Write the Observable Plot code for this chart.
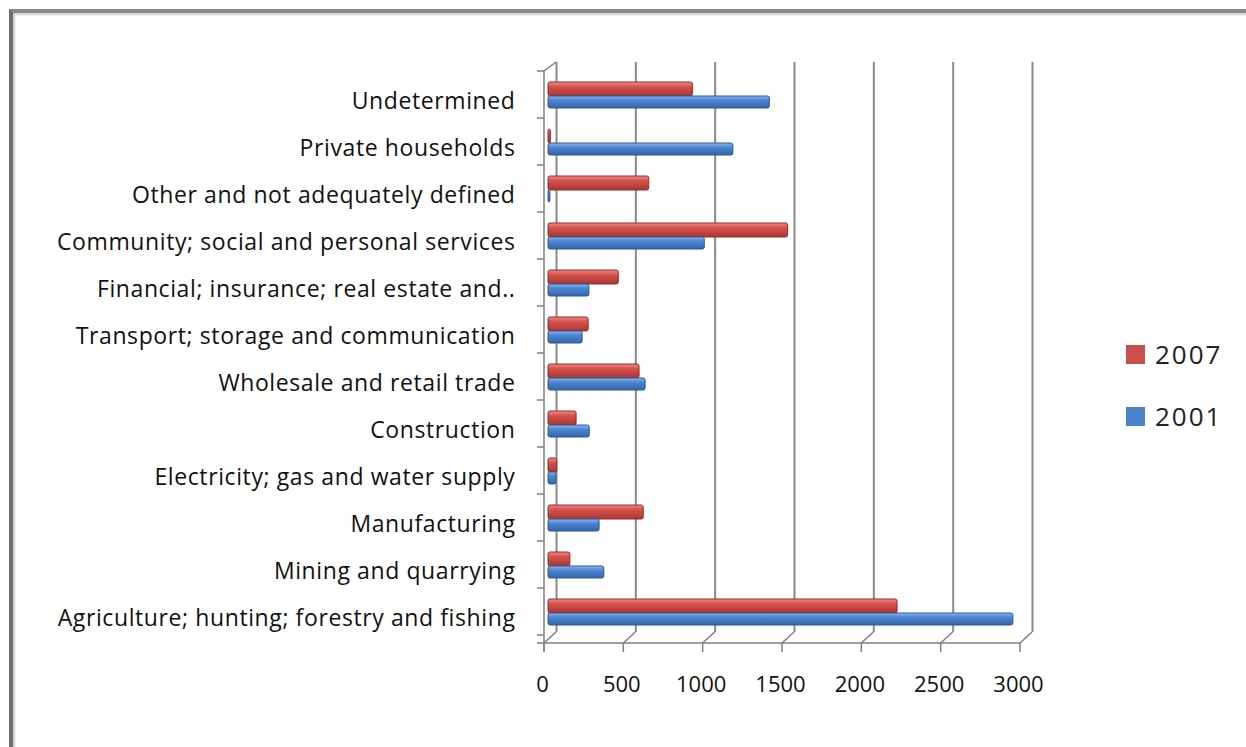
<!DOCTYPE html>
<html>
<head>
<meta charset="utf-8">
<script src="https://cdn.jsdelivr.net/npm/d3@7"></script>
<script src="https://cdn.jsdelivr.net/npm/@observablehq/plot@0.6"></script>
<style>
  html, body { margin: 0; padding: 0; background: #fff; width: 1246px; height: 747px; overflow: hidden; position: relative; }
  #chart { position: absolute; left: 0; top: 0; }
  #chart g[aria-label="y-axis tick label"] text { letter-spacing: 0.6px !important; }
  .frame { position: absolute; left: 9px; top: 9px; width: 1250px; height: 750px;
           border-left: 4px solid #6e6e6e; border-top: 4px solid #8a8a8a;
           box-shadow: inset 2px 2px 2px #d0d0d0; pointer-events: none; }
  .legend { position: absolute; left: 1126px; top: 334px; font-family: "Open Sans", Lato, sans-serif; font-size: 26px; letter-spacing: 2px; font-weight: 500; color: #222; }
  .legend div { display: flex; align-items: center; height: 40px; margin-bottom: 22px; }
  .legend span.sw { display: inline-block; width: 19px; height: 19px; margin-right: 10px; }
</style>
</head>
<body>
<div id="chart"></div>
<div class="frame"></div>
<div class="legend" id="legend"></div>
<script>
// Categories, top to bottom
const categories = [
  "Undetermined",
  "Private households",
  "Other and not adequately defined",
  "Community; social and personal services",
  "Financial; insurance; real estate and..",
  "Transport; storage and communication",
  "Wholesale and retail trade",
  "Construction",
  "Electricity; gas and water supply",
  "Manufacturing",
  "Mining and quarrying",
  "Agriculture; hunting; forestry and fishing"
];
const values2007 = [910, 15, 635, 1510, 443, 253, 574, 177, 55, 600, 138, 2200];
const values2001 = [1395, 1165, 12, 985, 258, 215, 612, 260, 50, 322, 352, 2930];
const years = ["2007", "2001"];
const xTicks = [0, 500, 1000, 1500, 2000, 2500, 3000];

const rows2007 = categories.map((c, i) => ({category: c, year: "2007", value: values2007[i]}));
const rows2001 = categories.map((c, i) => ({category: c, year: "2001", value: values2001[i]}));

const FONT = "'Open Sans', Lato, sans-serif";
const axisColor = "#7f7f7f";

// 3D-ish frame: front axes, floor diagonals, ticks (drawn with the plot's scales)
function frameMark(index, scales, values, dim) {
  const x = scales.x, y = scales.y;
  const g = d3.create("svg:g").attr("stroke", axisColor).attr("stroke-width", 1.5).attr("fill", "none");
  const x0 = x(0), x1 = x(3000);
  const yTop = dim.marginTop, yBot = dim.height - dim.marginBottom;
  const depthX = 12, depthY = 11;
  g.append("line").attr("x1", x0).attr("x2", x0).attr("y1", yTop).attr("y2", yBot + 8);
  g.append("line").attr("x1", x0).attr("x2", x0 + depthX).attr("y1", yTop).attr("y2", yTop - depthY + 2);
  const step = y.step ? y.step() : (yBot - yTop) / categories.length;
  for (let k = 0; k <= categories.length; k++) {
    const yy = yTop + k * step;
    g.append("line").attr("x1", x0 - 7).attr("x2", x0).attr("y1", yy).attr("y2", yy);
  }
  g.append("line").attr("x1", x0 - 7).attr("x2", x1).attr("y1", yBot).attr("y2", yBot);
  for (const t of xTicks) {
    const xx = x(t);
    g.append("line").attr("x1", xx).attr("x2", xx).attr("y1", yBot).attr("y2", yBot + 9);
    g.append("line").attr("x1", xx).attr("x2", xx + depthX).attr("y1", yBot).attr("y2", yBot - depthY);
  }
  return g.node();
}

const chart = Plot.plot({
  width: 1246,
  height: 747,
  marginLeft: 544,
  marginRight: 226,
  marginTop: 71,
  marginBottom: 104,
  style: {fontFamily: FONT, color: "#000", background: "transparent"},
  x: {domain: [0, 3000], axis: null},
  y: {domain: categories, axis: null, padding: 0},
  marks: [
    Plot.ruleX(xTicks, {x: d => d, dx: 12, insetTop: -9, insetBottom: 11, stroke: "#8a8a8a", strokeWidth: 2}),
    frameMark,
    Plot.barX(rows2007, {x: "value", y: "category", fill: "url(#gRed)", stroke: "#8e2f2b", strokeWidth: 1,
                         insetTop: 7, insetBottom: 26, dx: 4, rx: 2}),
    Plot.barX(rows2001, {x: "value", y: "category", fill: "url(#gBlue)", stroke: "#2c5a94", strokeWidth: 1,
                         insetTop: 21, insetBottom: 14, dx: 4, rx: 2}),
    Plot.axisY({label: null, tickSize: 0, tickPadding: 29, fontSize: 23, fontWeight: 500, dy: 3, fill: "#111"}),
    Plot.text(xTicks, {x: d => d, text: d => String(d), frameAnchor: "bottom", dy: 48, dx: -2, fontSize: 22,
                       fontWeight: 500, fill: "#111"})
  ]
});

d3.select(chart).insert("defs", ":first-child").html(`
  <linearGradient id="gRed" x1="0" y1="0" x2="0" y2="1">
    <stop offset="0" stop-color="#ef8a86"/>
    <stop offset="0.35" stop-color="#d4504b"/>
    <stop offset="1" stop-color="#a93733"/>
  </linearGradient>
  <linearGradient id="gBlue" x1="0" y1="0" x2="0" y2="1">
    <stop offset="0" stop-color="#8cb6ea"/>
    <stop offset="0.35" stop-color="#4d86d2"/>
    <stop offset="1" stop-color="#3565a8"/>
  </linearGradient>`);

document.getElementById("chart").appendChild(chart);

const legendColors = {"2007": "#c9504b", "2001": "#4a83cc"};
const legend = document.getElementById("legend");
for (const yr of years) {
  const row = document.createElement("div");
  const sw = document.createElement("span");
  sw.className = "sw";
  sw.style.background = legendColors[yr];
  row.appendChild(sw);
  row.appendChild(document.createTextNode(yr));
  legend.appendChild(row);
}
</script>
</body>
</html>
